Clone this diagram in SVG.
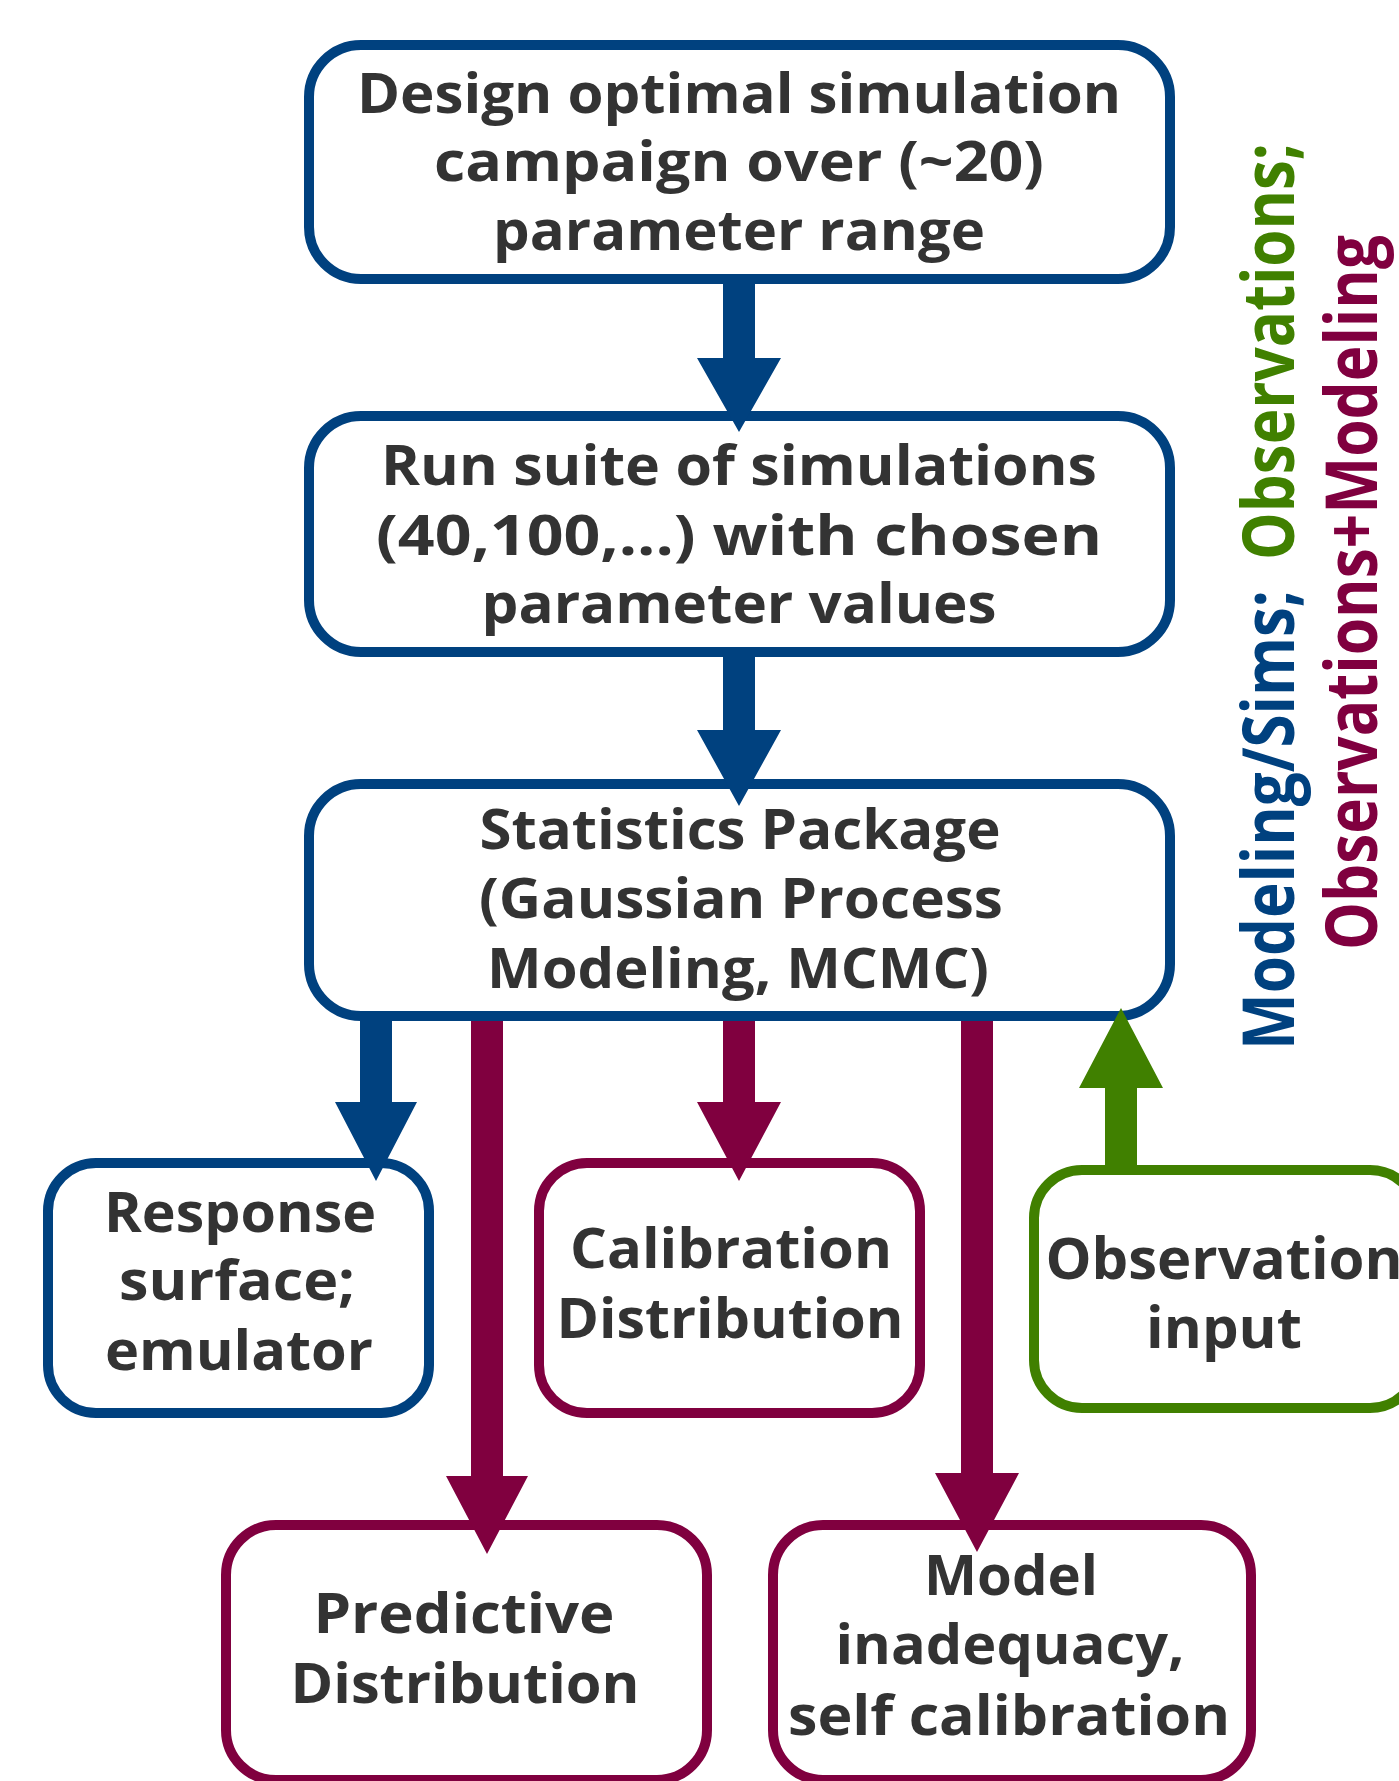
<svg xmlns="http://www.w3.org/2000/svg" width="1399" height="1781" viewBox="0 0 1399 1781">
<style>
.box{fill:#ffffff;stroke-width:10}
.blue{stroke:#00417f}
.maroon{stroke:#80003f}
.green{stroke:#408000}
.t{font-family:"Open Sans","DejaVu Sans",sans-serif;font-weight:700;font-size:56px;fill:#333333;text-anchor:middle}
.obs{font-size:58px}
.v{font-family:"Open Sans","DejaVu Sans",sans-serif;font-weight:700;font-size:72px}
.fb{fill:#00417f}
.fm{fill:#80003f}
.fg{fill:#408000}
</style>
<rect width="1399" height="1781" fill="#ffffff"/>
<g id="node-design">
<rect class="box blue" x="309" y="45" width="861" height="234" rx="52"/>
<text class="t" x="739" y="113" textLength="764" lengthAdjust="spacingAndGlyphs">Design optimal simulation</text>
<text class="t" x="739" y="181" textLength="610" lengthAdjust="spacingAndGlyphs">campaign over (~20)</text>
<text class="t" x="739" y="250" textLength="492" lengthAdjust="spacingAndGlyphs">parameter range</text>
</g>
<g id="node-run">
<rect class="box blue" x="309" y="416" width="861" height="236" rx="52"/>
<text class="t" x="739" y="485" textLength="716" lengthAdjust="spacingAndGlyphs">Run suite of simulations</text>
<text class="t" x="739" y="555" textLength="726" lengthAdjust="spacingAndGlyphs">(40,100,...) with chosen</text>
<text class="t" x="739" y="623" textLength="515" lengthAdjust="spacingAndGlyphs">parameter values</text>
</g>
<g id="node-stats">
<rect class="box blue" x="309" y="784" width="861" height="232" rx="52"/>
<text class="t" x="740" y="849" textLength="521" lengthAdjust="spacingAndGlyphs">Statistics Package</text>
<text class="t" x="741" y="918" textLength="524" lengthAdjust="spacingAndGlyphs">(Gaussian Process</text>
<text class="t" x="738" y="988" textLength="502" lengthAdjust="spacingAndGlyphs">Modeling, MCMC)</text>
</g>
<g id="node-response">
<rect class="box blue" x="48" y="1163" width="381" height="250" rx="48"/>
<text class="t" x="240" y="1232" textLength="272" lengthAdjust="spacingAndGlyphs">Response</text>
<text class="t" x="237" y="1300" textLength="236" lengthAdjust="spacingAndGlyphs">surface;</text>
<text class="t" x="239" y="1370" textLength="268" lengthAdjust="spacingAndGlyphs">emulator</text>
</g>
<g id="node-calibration">
<rect class="box maroon" x="539" y="1163" width="381" height="250" rx="48"/>
<text class="t" x="731" y="1268" textLength="322" lengthAdjust="spacingAndGlyphs">Calibration</text>
<text class="t" x="730" y="1338" textLength="347" lengthAdjust="spacingAndGlyphs">Distribution</text>
</g>
<g id="node-observation">
<rect class="box green" x="1034" y="1170" width="384" height="238" rx="48"/>
<text class="t obs" x="1224" y="1279">Observation</text>
<text class="t obs" x="1224" y="1348">input</text>
</g>
<g id="node-predictive">
<rect class="box maroon" x="226" y="1525" width="481" height="255" rx="50"/>
<text class="t" x="464" y="1633" textLength="301" lengthAdjust="spacingAndGlyphs">Predictive</text>
<text class="t" x="465" y="1703" textLength="349" lengthAdjust="spacingAndGlyphs">Distribution</text>
</g>
<g id="node-inadequacy">
<rect class="box maroon" x="773" y="1525" width="478" height="255" rx="50"/>
<text class="t" x="1011" y="1595" textLength="174" lengthAdjust="spacingAndGlyphs">Model</text>
<text class="t" x="1010" y="1664" textLength="349" lengthAdjust="spacingAndGlyphs">inadequacy,</text>
<text class="t" x="1009" y="1735" textLength="442" lengthAdjust="spacingAndGlyphs">self calibration</text>
</g>
<g id="connectors">
<path class="fb" d="M723,284 H755 V358 H781 L739,432 L697,358 H723 Z"/>
<path class="fb" d="M723,656 H755 V730 H781 L739,806 L697,730 H723 Z"/>
<path class="fb" d="M360,1020 H392 V1102 H417 L376,1181 L335,1102 H360 Z"/>
<path class="fm" d="M471,1021 H503 V1476 H528 L487,1554 L446,1476 H471 Z"/>
<path class="fm" d="M723,1021 H755 V1102 H781 L739,1181 L697,1102 H723 Z"/>
<path class="fm" d="M961,1021 H993 V1473 H1019 L977,1552 L935,1473 H961 Z"/>
<path class="fg" d="M1105,1166 H1137 V1088 H1163 L1121,1008 L1079,1088 H1105 Z"/>
</g>
<g id="legend">
<text class="v fb" transform="translate(1294,1050) rotate(-90)" textLength="460" lengthAdjust="spacingAndGlyphs">Modeling/Sims;</text>
<text class="v fg" transform="translate(1294,560) rotate(-90)" textLength="417" lengthAdjust="spacingAndGlyphs">Observations;</text>
<text class="v fm" transform="translate(1377,950) rotate(-90)" textLength="715" lengthAdjust="spacingAndGlyphs">Observations+Modeling</text>
</g>
</svg>
